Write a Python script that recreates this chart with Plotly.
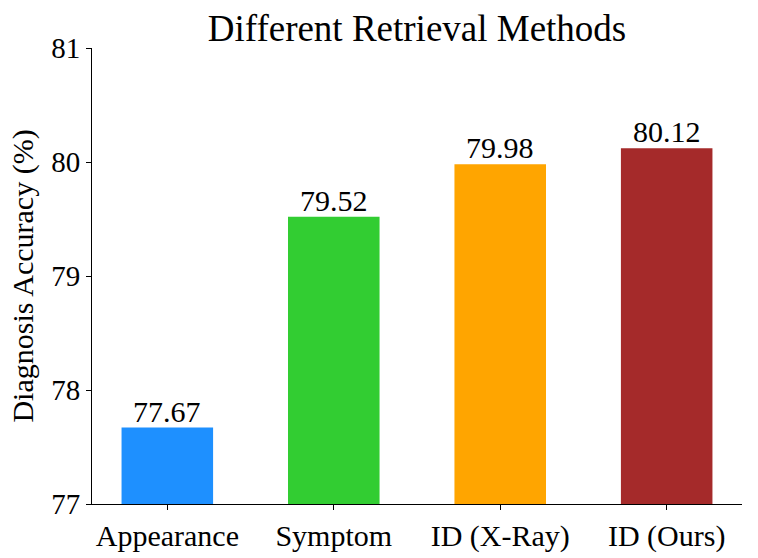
import plotly.graph_objects as go

categories = ["Appearance", "Symptom", "ID (X-Ray)", "ID (Ours)"]
accuracy = [77.67, 79.52, 79.98, 80.12]
colors = ["#1E90FF", "#32CD32", "#FFA500", "#A52A2A"]
y_ticks = [77, 78, 79, 80, 81]

FONT = "Times New Roman, Liberation Serif, serif"

x_pos = list(range(len(categories)))

fig = go.Figure(
    go.Bar(
        x=x_pos,
        y=[v - 77 for v in accuracy],
        base=77,
        width=0.55,
        marker=dict(color=colors, line=dict(width=0)),
        hoverinfo="skip",
    )
)

for xi, v in zip(x_pos, accuracy):
    fig.add_annotation(
        x=xi,
        y=v,
        xref="x",
        yref="y",
        text=f"{v:.2f}",
        showarrow=False,
        yanchor="bottom",
        yshift=-2,
        font=dict(family=FONT, size=30, color="black"),
    )

fig.update_layout(
    width=758,
    height=558,
    margin=dict(l=92, r=16, t=48, b=54, autoexpand=False),
    plot_bgcolor="white",
    paper_bgcolor="white",
    font=dict(family=FONT, color="black"),
    showlegend=False,
    title=dict(
        text="Different Retrieval Methods",
        font=dict(family=FONT, size=37, color="black"),
        x=0.5,
        xref="paper",
        xanchor="center",
        y=1 - 28 / 558,
        yanchor="middle",
    ),
    xaxis=dict(
        range=[-0.4525, 3.4525],
        tickmode="array",
        tickvals=x_pos,
        ticktext=categories,
        ticks="outside",
        ticklen=5,
        tickwidth=1,
        tickcolor="black",
        showline=True,
        linecolor="black",
        linewidth=1,
        showgrid=False,
        zeroline=False,
        tickfont=dict(family=FONT, size=30, color="black"),
    ),
    yaxis=dict(
        range=[77, 81],
        tickmode="array",
        tickvals=y_ticks,
        ticktext=[str(t) for t in y_ticks],
        ticks="outside",
        ticklen=5,
        tickwidth=1,
        tickcolor="black",
        showline=True,
        linecolor="black",
        linewidth=1,
        showgrid=False,
        zeroline=False,
        tickfont=dict(family=FONT, size=29, color="black"),
        title=dict(
            text="Diagnosis Accuracy (%)",
            font=dict(family=FONT, size=30, color="black"),
            standoff=8,
        ),
    ),
)

fig.write_html(
    "out.html",
    config={"displayModeBar": False},
    post_script="document.body.style.margin='0';",
)
